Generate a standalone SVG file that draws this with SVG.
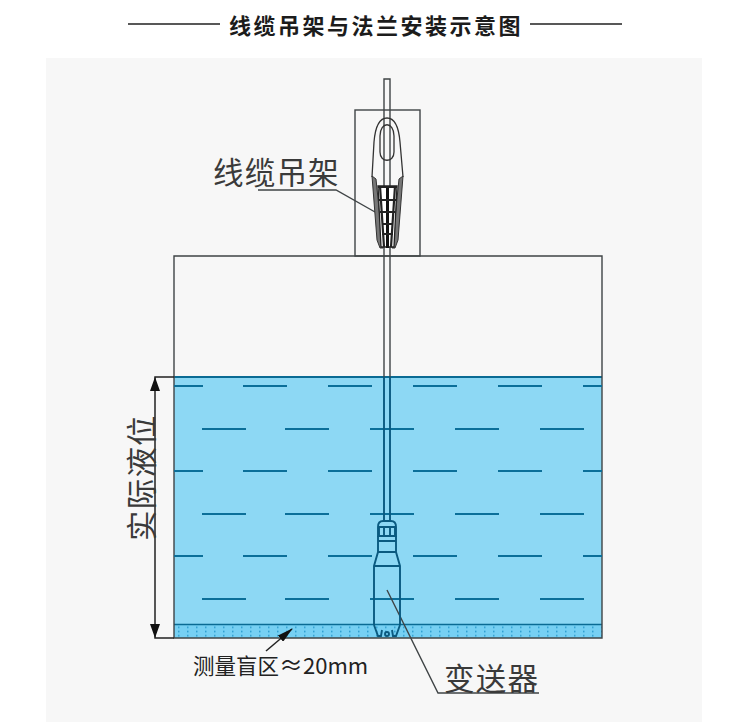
<svg xmlns="http://www.w3.org/2000/svg" width="750" height="722" viewBox="0 0 750 722">
<style>
.cjk{font-family:"Noto Sans CJK SC","Noto Sans",sans-serif}
.title{font-size:22px;font-weight:700;fill:#1c1c1c;letter-spacing:2.500px}
.lab{font-size:30.5px;font-weight:400;fill:#3a3a3a;letter-spacing:1.2px}
.ln{fill:none;stroke:#3f4446;stroke-width:1.4}
.bk{fill:none;stroke:#222;stroke-width:1.5}
.dash{fill:none;stroke:#0b6f99;stroke-width:1.8}
.sub{fill:none;stroke:#0a5a80;stroke-width:1.900}
.clip{fill:none;stroke:#333;stroke-width:1.3}
</style>
<defs>
<pattern id="dots" width="9" height="4.200" patternUnits="userSpaceOnUse" x="175" y="626">
<rect x="3" y="0.500" width="1.500" height="1.600" fill="#2f9fd0"/>
</pattern>
<marker id="ah" markerWidth="16" markerHeight="8" refX="15" refY="4" orient="auto" markerUnits="userSpaceOnUse"><path d="M0 0L16 4L0 8Z" fill="#111"/></marker>
</defs>
<rect width="750" height="722" fill="#fff"/>
<rect x="46" y="58" width="656" height="664" fill="#f7f7f7"/>
<g id="title">
<path d="M128 24H220M530 24H622" stroke="#222" stroke-width="1.3" fill="none"/>
<text x="229" y="34" class="cjk title">线缆吊架与法兰安装示意图</text>
</g>
<g id="tank">
<rect x="174" y="377" width="428" height="261" fill="#8dd8f4"/>
<rect x="174" y="624" width="428" height="14" fill="#76d0f3"/>
<rect x="174" y="625" width="428" height="13" fill="url(#dots)"/>
<path d="M174 377H602" stroke="#0a6b94" stroke-width="2" fill="none"/>
<path d="M174 624.500H602" stroke="#0a6b94" stroke-width="1.300" fill="none"/>
<rect x="355" y="110" width="65" height="146" class="ln"/>
<path d="M174 638V256H602V638H174Z" class="ln"/>
</g>
<g id="connectors">
<path class="dash" d="M174 386H203M243 386H287M328 386H372M413 386H457M498 386H542M583 386H602
M202 429H246M285 429H329M370 429H414M455 429H499M540 429H584
M174 471H203M243 471H287M328 471H372M413 471H457M498 471H542M583 471H602
M202 514H246M285 514H329M370 514H414M455 514H499M540 514H584
M174 556H203M243 556H287M328 556H372M413 556H457M498 556H542M583 556H602
M202 599H246M285 599H329M370 599H414M455 599H499M540 599H584"/>
<path class="bk" d="M174 377H155V638H174" stroke-width="1.4"/>
<path d="M155 377L150 391H160Z M155 638L150 624H160Z" fill="#111"/>
<path class="ln" d="M258 190H336L375 212"/>
<path class="ln" d="M387 590L438 693H539"/>
<path class="bk" d="M266 651L292 629" stroke-width="1.2" marker-end="url(#ah)"/>
</g>
<g id="cable">
<path class="ln" d="M384 377V79H390V377"/>
<path class="sub" d="M384 377V521M390 377V521"/>
</g>
<g id="hanger">
<path class="clip" d="M372 177L374 142Q376 118 387 118Q398 118 400 142L403 177"/>
<path class="clip" d="M380 136C380 121 394 121 394 136V152C394 163 380 163 380 152Z"/>
<path d="M372 176L376 179L383 248H380L377 240Z M403 176L399 179L392 248H395L398 240Z" fill="#777" stroke="#333"/>
<path d="M378 186H397L394 247H381Z" fill="#fff" stroke="#222" stroke-width="1.3"/>
<path d="M387.500 186V248" stroke="#111" stroke-width="3"/>
<path d="M378 187H397M379 200H396M380 212H395M382 224H393M382 234H393M380 186L384 247M395 186L391 247" stroke="#222" stroke-width="2.200" fill="none"/>
<text x="213" y="184" class="cjk lab">线缆吊架</text>
</g>
<g id="transmitter">
<path class="sub" d="M378 536V527Q378 521 383 521H391Q396 521 396 527V536Z"/>
<path class="sub" d="M379 527H395V536H379ZM384 527V536M390 527V536"/>
<path class="sub" d="M378 536V552L374 566V625M396 536V552L400 566V625M378 541H396M378 552H396M374 566H400"/>
<path class="sub" d="M374 625L378 636H381L382 630M400 625L396 636H393L392 630"/>
<circle cx="387" cy="634" r="2" class="sub"/>
<text x="444" y="690" class="cjk lab">变送器</text>
</g>
<g id="level">
<text transform="translate(153,541) rotate(-90)" class="cjk lab">实际液位</text>
</g>
<g id="blind">
<text y="674" font-family="'Noto Sans CJK SC','Noto Sans',sans-serif" font-size="21.500" fill="#222"><tspan x="193">测量盲区</tspan><tspan x="279" font-size="24">≈</tspan><tspan x="303" font-size="22">20mm</tspan></text>
</g>
</svg>
